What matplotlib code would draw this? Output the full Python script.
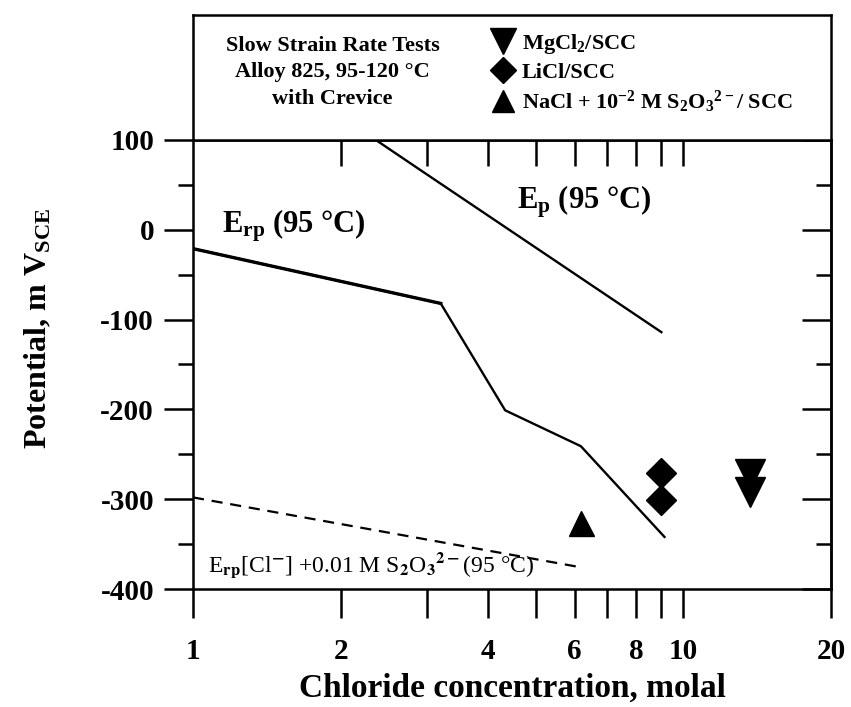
import matplotlib
matplotlib.use('Agg')
import matplotlib.pyplot as plt
from matplotlib.ticker import FixedLocator, NullFormatter, NullLocator

plt.rcParams['font.family'] = ['Liberation Serif', 'DejaVu Serif']
plt.rcParams['font.weight'] = 'bold'
plt.rcParams['mathtext.fontset'] = 'custom'
plt.rcParams['mathtext.rm'] = 'Liberation Serif:bold'
plt.rcParams['mathtext.bf'] = 'Liberation Serif:bold'
plt.rcParams['mathtext.it'] = 'Liberation Serif:bold'

# Erp (95 C), repassivation potential vs chloride
erp_x = [1.0, 3.2, 4.33, 6.18, 9.15]
erp_y = [-21, -82, -201, -241, -342]

# Ep (95 C), pitting potential
ep_x = [2.36, 2.9, 9.02]
ep_y = [100, 67, -114]

# Erp[Cl-] + 0.01 M S2O3 2-
erps_x = [1.0, 6.2]
erps_y = [-298, -376]

# slow strain rate tests
mgcl2_x = [13.7, 13.7]
mgcl2_y = [-272, -292]
licl_x = [9.02, 9.02]
licl_y = [-271, -301]
nacl_x = [6.18]
nacl_y = [-326]

xticks = [1, 2, 3, 4, 5, 6, 7, 8, 9, 10, 20]
xticklabels = ['1', '2', '', '4', '', '6', '', '8', '', '10', '20']
top_ticks = [2, 3, 4, 5, 6, 7, 8, 9, 10]
yticks = [100, 0, -100, -200, -300, -400]
yticklabels = ['100', '0', '-100', '-200', '-300', '-400']
yminor = [50, -50, -150, -250, -350]

fig = plt.figure(figsize=(8.51, 7.07), dpi=100)
ax = fig.add_axes([0.2268, 0.1669, 0.7497, 0.6351])
box = fig.add_axes([0.2268, 0.8020, 0.7497, 0.1768])

lw_axis = 1.8
for a in (ax, box):
    for s in a.spines.values():
        s.set_linewidth(lw_axis)

# main lines
ax.plot(erp_x, erp_y, color='black', lw=1.7)
ax.plot(erp_x[:2], erp_y[:2], color='black', lw=2.4)
ax.plot(ep_x, ep_y, color='black', lw=1.7)
ax.plot(erps_x, erps_y, color='black', lw=1.6, linestyle=(0, (5, 3.5)))

# markers
ax.plot(mgcl2_x, mgcl2_y, 'v', color='black', ms=21, label='MgCl$_2$/SCC', clip_on=False)
ax.plot(licl_x, licl_y, 'D', color='black', ms=15, label='LiCl/SCC')
ax.plot(nacl_x, nacl_y, '^', color='black', ms=18,
        label='NaCl + 10$^{-2}$ M S$_2$O$_3$$^{2-}$/ SCC')

ax.set_xscale('log')
ax.set_xlim(1, 20)
ax.set_ylim(-400, 100)

ax.xaxis.set_major_locator(FixedLocator(xticks))
ax.xaxis.set_minor_locator(NullLocator())
ax.set_xticklabels(xticklabels)
ax.set_yticks(yticks)
ax.set_yticklabels(yticklabels)
ax.yaxis.set_minor_locator(FixedLocator(yminor))

ax.tick_params(axis='x', which='major', direction='out', length=21, width=lw_axis,
               pad=14, labelsize=21)
ax.tick_params(axis='y', which='major', direction='out', length=21, width=lw_axis,
               pad=7, labelsize=21)
ax.tick_params(axis='y', which='minor', direction='out', length=11, width=lw_axis)

# right-hand ticks point inwards
sec = ax.secondary_yaxis('right')
sec.set_yticks(yticks)
sec.yaxis.set_major_formatter(NullFormatter())
sec.yaxis.set_minor_locator(FixedLocator(yminor))
sec.tick_params(axis='y', which='major', direction='in', length=21, width=lw_axis)
sec.tick_params(axis='y', which='minor', direction='in', length=11, width=lw_axis)
sec.spines['right'].set_linewidth(lw_axis)

# top box with ticks hanging into the plot
box.set_xscale('log')
box.set_xlim(1, 20)
box.set_ylim(0, 1)
box.xaxis.set_major_locator(FixedLocator(top_ticks))
box.xaxis.set_minor_locator(NullLocator())
box.xaxis.set_major_formatter(NullFormatter())
box.set_yticks([])
box.tick_params(axis='x', direction='out', length=19, width=lw_axis)

box.text(0.219, 0.54, 'Slow Strain Rate Tests\nAlloy 825, 95-120 °C\nwith Crevice',
         transform=box.transAxes, ha='center', va='center', fontsize=16, linespacing=1.42)

handles, labels = ax.get_legend_handles_labels()
fig.legend(handles, labels, loc='upper left', bbox_to_anchor=(0.578, 0.955),
           frameon=False, fontsize=16, handlelength=1.0, handletextpad=0.35,
           labelspacing=0.28, borderpad=0, borderaxespad=0, numpoints=1,
           markerscale=0.9)

# curve labels
ax.text(1.145, -2.5, r'E$_{\rm rp}$ (95 °C)', fontsize=22, ha='left', va='baseline')
ax.text(4.57, 24, r'E$_{\rm p}$ (95 °C)', fontsize=22, ha='left', va='baseline')
ax.text(1.073, -381, r'E$_{\rm rp}$[Cl$^{-}$] +0.01 M S$_2$O$_3$$^{2-}$(95 °C)',
        fontsize=17, fontweight='normal', ha='left', va='baseline',
        math_fontfamily='stix')

fig.text(0.602, 0.014, 'Chloride concentration, molal', ha='center', va='baseline',
         fontsize=24)
fig.text(0.045, 0.536, r'Potential, m V$_{\rm SCE}$', rotation=90, ha='center',
         va='center', fontsize=23)

fig.savefig('out.png', dpi=100)
